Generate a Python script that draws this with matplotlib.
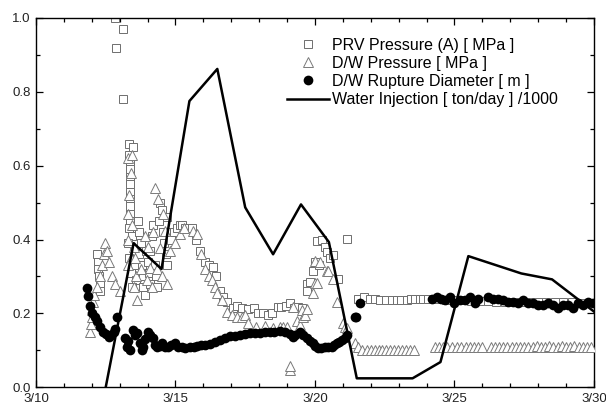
import matplotlib
matplotlib.use("Agg")
import matplotlib.pyplot as plt
from matplotlib.ticker import MultipleLocator, FormatStrFormatter

plt.rcParams['font.family'] = ['Liberation Sans', 'DejaVu Sans']

# x values are days after 3/10
prv_day = [2.83, 2.87, 3.12, 3.12,
           2.2, 2.22, 2.24, 2.26, 2.28, 2.3,
           3.35, 3.47, 3.33, 3.36, 3.36, 3.36, 3.36, 3.36, 3.36, 3.36, 3.38, 3.38, 3.33, 3.45, 3.3,
           3.5, 3.35, 3.55, 3.4, 3.6, 3.45,
           3.65, 3.7, 3.75, 3.7, 3.8, 3.85, 3.85, 3.9, 3.95, 4.0, 4.05, 4.1, 4.1, 4.15, 4.2, 4.25,
           4.3, 4.35, 4.4, 4.45, 4.5, 4.55, 4.6, 4.65, 4.7, 4.7, 4.8, 4.85, 4.95, 5.05, 5.15, 5.25,
           5.35, 5.5, 5.6,
           5.75, 5.88, 6.06, 6.2, 6.35, 6.45, 6.6, 6.7, 6.85, 7.05, 7.2, 7.4, 7.6, 7.8, 7.95, 8.15,
           8.3, 8.45, 8.67, 8.8, 8.95, 9.1, 9.25, 9.4, 9.55,
           9.7, 9.7, 9.82, 9.93, 10.0, 10.07, 10.15, 10.25, 10.36, 10.43, 10.55, 10.65, 10.83, 11.15,
           11.55, 11.75, 11.97, 12.15, 12.33, 12.55, 12.75, 12.93, 13.1, 13.3, 13.45, 13.58, 13.75,
           13.87, 14.05, 14.25, 14.45,
           14.7, 15.0, 15.3, 15.6, 15.9, 16.2, 16.5, 16.8, 17.1, 17.4, 17.7, 18.0, 18.3, 18.6, 18.9,
           19.2, 19.5, 19.8]
prv_val = [1.00, 0.92, 0.97, 0.78,
           0.36, 0.34, 0.32, 0.30, 0.28, 0.26,
           0.66, 0.65, 0.63, 0.61, 0.59, 0.57, 0.55, 0.53, 0.51, 0.49, 0.47, 0.45, 0.43, 0.41, 0.39,
           0.37, 0.35, 0.33, 0.31, 0.29, 0.27,
           0.45, 0.42, 0.39, 0.36, 0.33, 0.30, 0.27, 0.25, 0.37, 0.34, 0.31, 0.28, 0.37, 0.41, 0.44, 0.33,
           0.30, 0.27, 0.45, 0.50, 0.48, 0.42, 0.39, 0.36, 0.33, 0.46, 0.42, 0.40, 0.42, 0.43, 0.44, 0.44,
           0.43, 0.43, 0.43,
           0.40, 0.37, 0.34, 0.33, 0.325, 0.30, 0.26, 0.245, 0.232, 0.215, 0.22, 0.215, 0.213, 0.215, 0.20, 0.20,
           0.195, 0.20, 0.217, 0.217, 0.22, 0.227, 0.215, 0.217, 0.215,
           0.28, 0.26, 0.284, 0.316, 0.34, 0.397, 0.33, 0.40, 0.38, 0.366, 0.35, 0.357, 0.294, 0.402,
           0.24, 0.243, 0.24, 0.24, 0.237, 0.237, 0.235, 0.237, 0.237, 0.237, 0.24, 0.24, 0.24,
           0.24, 0.24, 0.24, 0.24,
           0.235, 0.235, 0.235, 0.233, 0.233, 0.233, 0.232, 0.232, 0.232, 0.23, 0.23, 0.23, 0.23, 0.23, 0.23,
           0.23, 0.228, 0.228]

dw_day = [1.95, 1.97, 2.0, 2.02, 2.05, 2.08, 2.2, 2.3, 2.38, 2.42, 2.47, 2.55, 2.6, 2.72, 2.83, 3.0,
          3.3, 3.44, 3.4, 3.35, 3.3, 3.45, 3.3, 3.5, 3.42, 3.3, 3.55, 3.6, 3.5, 3.62,
          3.75, 3.9, 3.98, 4.0, 4.09, 4.15, 4.2, 4.27, 4.33, 4.37, 4.44, 4.5, 4.55, 4.62, 4.7, 4.8,
          4.98, 5.16, 5.3, 5.63, 5.77,
          5.9, 6.06, 6.2, 6.3, 6.42, 6.5, 6.67, 6.85, 7.02, 7.2, 7.4, 7.5, 7.6, 7.9, 8.2, 8.5, 8.75,
          8.85, 9.0, 9.1, 9.12,
          9.2, 9.35, 9.46, 9.53, 9.57, 9.64, 9.7, 9.93, 10.0, 10.0, 10.07, 10.18, 10.43, 10.47, 10.65,
          10.8, 11.0, 11.07, 11.15, 11.43, 11.55,
          11.7, 11.86, 12.0, 12.14, 12.28, 12.42, 12.56, 12.7, 12.84, 12.98, 13.12, 13.26, 13.4, 13.55,
          14.3, 14.45, 14.6, 14.75, 14.9, 15.1, 15.25, 15.4, 15.55, 15.7, 15.85, 16.0, 16.3, 16.45,
          16.6, 16.75, 16.9, 17.05, 17.2, 17.35, 17.5, 17.65, 17.8, 17.95, 18.1, 18.25, 18.4, 18.55,
          18.7, 18.85, 19.0, 19.15, 19.3, 19.45, 19.6, 19.75, 19.9]
dw_val = [0.15, 0.17, 0.19, 0.21, 0.23, 0.25, 0.27, 0.30, 0.33, 0.36, 0.39, 0.37, 0.34, 0.30, 0.28, 0.26,
          0.62, 0.63, 0.58, 0.52, 0.47, 0.44, 0.40, 0.38, 0.35, 0.33, 0.35, 0.30, 0.27, 0.235,
          0.32, 0.41, 0.29, 0.38, 0.324, 0.27, 0.42, 0.54, 0.32, 0.51, 0.378, 0.30, 0.47, 0.424, 0.28, 0.37,
          0.39, 0.416, 0.43, 0.424, 0.416,
          0.36, 0.32, 0.30, 0.29, 0.27, 0.254, 0.235, 0.203, 0.195, 0.19, 0.19, 0.195, 0.175, 0.162, 0.165,
          0.16, 0.162, 0.162, 0.162, 0.046, 0.058,
          0.217, 0.18, 0.168, 0.208, 0.19, 0.195, 0.213, 0.254, 0.281, 0.343, 0.281, 0.338, 0.316, 0.316,
          0.294, 0.23, 0.173, 0.162, 0.16, 0.119, 0.108,
          0.10, 0.10, 0.10, 0.10, 0.10, 0.10, 0.10, 0.10, 0.10, 0.10, 0.10, 0.10, 0.10, 0.10,
          0.108, 0.108, 0.108, 0.108, 0.108, 0.108, 0.108, 0.11, 0.108, 0.108, 0.11, 0.11, 0.108, 0.11,
          0.11, 0.11, 0.11, 0.11, 0.11, 0.11, 0.11, 0.11, 0.11, 0.112, 0.11, 0.11, 0.112, 0.11,
          0.11, 0.112, 0.11, 0.11, 0.112, 0.11, 0.11, 0.11, 0.11]

rup_day = [1.83, 1.86, 1.94, 2.0, 2.1, 2.19, 2.3, 2.4, 2.5, 2.6, 2.7, 2.78, 2.85, 2.9,
           3.19, 3.26, 3.3, 3.37, 3.48, 3.55, 3.62, 3.73, 3.8, 3.84, 3.92, 4.0, 4.1, 4.2, 4.27, 4.33,
           4.45, 4.52, 4.62, 4.73, 4.85, 4.98, 5.1, 5.23, 5.35, 5.52, 5.65, 5.77, 5.9, 6.05, 6.24, 6.4,
           6.6, 6.78, 6.95, 7.12, 7.3, 7.5, 7.67, 7.85, 8.03, 8.2, 8.39, 8.55, 8.75, 8.92, 9.1, 9.2,
           9.3, 9.46, 9.58, 9.7, 9.82, 9.93, 10.02, 10.1, 10.23, 10.36, 10.48, 10.6, 10.7, 10.79,
           10.88, 10.97, 11.06, 11.15, 11.43, 11.48, 11.6,
           14.2, 14.37, 14.52, 14.66, 14.84, 15.0, 15.2, 15.38, 15.56, 15.73, 15.84,
           16.2, 16.38, 16.56, 16.74, 16.92, 17.1, 17.28, 17.45, 17.63, 17.81, 18.0, 18.17, 18.35,
           18.53, 18.7, 18.89, 19.07, 19.25, 19.43, 19.6, 19.78, 19.96]
rup_val = [0.268, 0.246, 0.22, 0.20, 0.19, 0.18, 0.162, 0.15, 0.143, 0.136, 0.14, 0.149, 0.158, 0.19,
           0.132, 0.108, 0.125, 0.10, 0.154, 0.14, 0.146, 0.119, 0.10, 0.108, 0.13, 0.149, 0.14, 0.132,
           0.115, 0.108,
           0.112, 0.119, 0.11, 0.108, 0.113, 0.119, 0.11, 0.108, 0.106, 0.108, 0.108, 0.111, 0.115, 0.113,
           0.118, 0.122,
           0.128, 0.133, 0.138, 0.138, 0.14, 0.143, 0.146, 0.148, 0.148, 0.15, 0.149, 0.15, 0.152, 0.149,
           0.145, 0.135,
           0.14, 0.149, 0.14, 0.132, 0.125, 0.119, 0.112, 0.105, 0.106, 0.108, 0.108, 0.108, 0.113, 0.119,
           0.123, 0.127, 0.133, 0.14, 0.19, 0.19, 0.227,
           0.24, 0.243, 0.238, 0.235, 0.243, 0.227, 0.235, 0.235, 0.243, 0.227, 0.24,
           0.243, 0.24, 0.24, 0.235, 0.23, 0.23, 0.227, 0.235, 0.227, 0.227, 0.222, 0.222, 0.227,
           0.222, 0.214, 0.222, 0.222, 0.214, 0.227, 0.222, 0.23, 0.227]

water_day = [2.5, 3.5, 4.5, 5.5, 6.5, 7.5, 8.5, 9.5, 10.5, 11.5, 12.5, 13.5, 14.5, 15.5, 17.4, 18.5, 20.0]
water_val = [0.0, 0.39, 0.32, 0.775, 0.862, 0.487, 0.36, 0.495, 0.393, 0.024, 0.024, 0.024, 0.068,
             0.355, 0.308, 0.292, 0.205]

tick_days = [0, 5, 10, 15, 20]
tick_labels = ['3/10', '3/15', '3/20', '3/25', '3/30']

fig = plt.figure(figsize=(6.06, 4.05), dpi=100)
ax = fig.add_axes([0.0594, 0.044, 0.9206, 0.9116])

ax.plot(prv_day, prv_val, 's', ms=5.5, mfc='white', mec='#6e6e6e', mew=0.7,
        label='PRV Pressure (A) [ MPa ]', zorder=2)
ax.plot(dw_day, dw_val, '^', ms=6.5, mfc='white', mec='#7a7a7a', mew=0.7,
        label='D/W Pressure [ MPa ]', zorder=3)
ax.plot(rup_day, rup_val, 'o', ms=7, color='black', mew=0,
        label='D/W Rupture Diameter [ m ]', zorder=4)
ax.plot(water_day, water_val, '-', color='black', lw=1.8,
        label='Water Injection [ ton/day ] /1000', zorder=5)

ax.set_xlim(0, 20)
ax.set_ylim(0, 1.0)
ax.set_xticks(tick_days)
ax.set_xticklabels(tick_labels)
ax.xaxis.set_minor_locator(MultipleLocator(1))
ax.yaxis.set_major_locator(MultipleLocator(0.2))
ax.yaxis.set_minor_locator(MultipleLocator(0.1))
ax.yaxis.set_major_formatter(FormatStrFormatter('%.1f'))
ax.tick_params(which='both', direction='in', top=True, right=True, labelsize=9.5,
               labelcolor='#222222', width=0.9)
ax.tick_params(which='major', length=5, pad=4)
ax.tick_params(which='minor', length=3)
for s in ax.spines.values():
    s.set_linewidth(1.0)

ax.legend(loc='upper left', bbox_to_anchor=(0.45, 0.947), frameon=False, fontsize=11.5,
          handlelength=2.6, handletextpad=0.2, labelspacing=0.2, borderpad=0, borderaxespad=0)

fig.savefig('out.png', dpi=100)
